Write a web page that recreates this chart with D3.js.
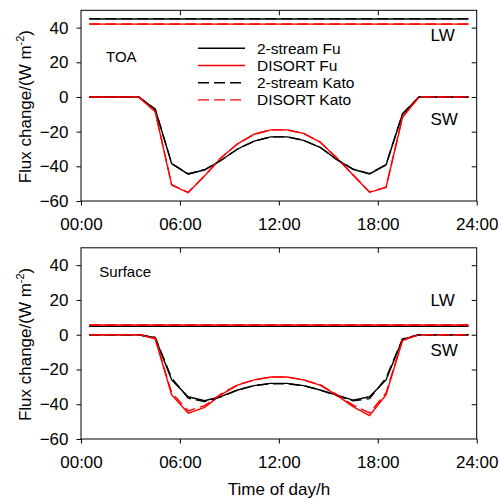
<!DOCTYPE html>
<html>
<head>
<meta charset="utf-8">
<script src="https://cdn.jsdelivr.net/npm/d3@7"></script>
<style>
  body { margin: 0; background: #fff; }
  svg { display: block; }
</style>
</head>
<body>
<div id="chart"></div>
<script>
// hours of the day (mid-hour samples)
const hours = [0.5, 1.5, 2.5, 3.5, 4.5, 5.5, 6.5, 7.5, 8.5, 9.5, 10.5, 11.5,
               12.5, 13.5, 14.5, 15.5, 16.5, 17.5, 18.5, 19.5, 20.5, 21.5, 22.5, 23.5];

// TOA shortwave flux change
const toaTwoFu    = [0, 0, 0, 0, -7, -38.5, -44.5, -42, -36.5, -30, -25.5, -23, -23, -25, -29, -36, -41.7, -44.4, -39.2, -9.8, 0, 0, 0, 0];
const toaDisFu    = [0, 0, 0, 0, -8.5, -50.8, -55.2, -45.5, -35, -27, -21.5, -19, -19, -21, -26, -35, -45, -55, -52.2, -11.7, 0, 0, 0, 0];
const toaTwoKato  = [0, 0, 0, 0, -7, -38.3, -44.3, -42, -36.5, -30, -25.5, -23, -23, -25, -29, -36, -41.6, -44.2, -39, -9.7, 0, 0, 0, 0];
const toaDisKato  = [0, 0, 0, 0, -8.4, -50.6, -55, -45.4, -35, -27, -21.5, -19, -19, -21, -26, -35, -44.9, -54.8, -52, -11.6, 0, 0, 0, 0];

// Surface shortwave flux change
const sfcTwoFu    = [0, 0, 0, 0, -1.7, -26, -35.7, -38, -35.5, -31.8, -29.3, -28, -28, -29.3, -31.8, -34.7, -37.6, -35.7, -26, -2.7, 0, 0, 0, 0];
const sfcDisFu    = [0, 0, 0, 0, -2.3, -34.7, -45.2, -41.8, -34.5, -29, -26, -24.3, -24.3, -26, -29, -34.8, -41.4, -46.5, -34.7, -3.4, 0, 0, 0, 0];
const sfcTwoKato  = [0, 0, 0, 0, -1.5, -25, -36.5, -38.5, -35.8, -31.8, -29.3, -28.2, -28.2, -29.3, -31.8, -35, -38, -36.8, -25, -2.4, 0, 0, 0, 0];
const sfcDisKato  = [0, 0, 0, 0, -2, -33.5, -43.8, -40.8, -34, -28.8, -26, -24.4, -24.4, -26, -28.8, -34.3, -40.5, -45, -33.5, -3, 0, 0, 0, 0];

// Longwave flux change (constant through the day): 2-stream Fu, DISORT Fu, 2-stream Kato, DISORT Kato
const toaLW = [45, 42, 45.2, 42.1];
const sfcLW = [4.8, 5.6, 4.8, 5.6];

const seriesNames = ["2-stream Fu", "DISORT Fu", "2-stream Kato", "DISORT Kato"];
const xTicks = [0, 6, 12, 18, 24];
const yTicks = [-60, -40, -20, 0, 20, 40];

const width = 500, height = 499;
const font = "Liberation Sans, Arial, sans-serif";
const colors = ["#000", "#f00", "#000", "#f00"];
const dashes = [null, null, "11,5", "11,5"];

const svg = d3.select("#chart").append("svg")
  .attr("width", width).attr("height", height)
  .style("font-family", font);

const x = d3.scaleLinear().domain([0, 24]).range([81, 476.7]);

function panel(top, bottom, sw, lw, label, labelPos, lwY, swY) {
  const y = d3.scaleLinear().domain([-60, 50]).range([bottom, top]);
  const g = svg.append("g");

  // left axis
  const left = g.append("g").attr("transform", "translate(81,0)")
    .call(d3.axisLeft(y).tickValues(yTicks).tickSize(4.5).tickPadding(8).tickSizeOuter(0));
  left.select(".domain").remove();
  left.selectAll("text").attr("font-size", 17).attr("font-family", font);

  // bottom axis
  const bot = g.append("g").attr("transform", `translate(0,${bottom})`)
    .call(d3.axisBottom(x).tickValues(xTicks).tickSize(4.5).tickPadding(12)
      .tickFormat(d => String(d).padStart(2, "0") + ":00").tickSizeOuter(0));
  bot.select(".domain").remove();
  bot.selectAll("text").attr("font-size", 17).attr("font-family", font);

  // inward ticks on top and right
  const tp = g.append("g").attr("transform", `translate(0,${top})`)
    .call(d3.axisTop(x).tickValues([6, 12, 18]).tickSize(-5).tickFormat(""));
  tp.select(".domain").remove();
  const rt = g.append("g").attr("transform", `translate(${x(24)},0)`)
    .call(d3.axisRight(y).tickValues([-40, -20, 0, 20, 40]).tickSize(-5).tickFormat(""));
  rt.select(".domain").remove();

  g.append("rect")
    .attr("x", x(0)).attr("y", top)
    .attr("width", x(24) - x(0)).attr("height", bottom - top)
    .attr("fill", "none").attr("stroke", "#000").attr("stroke-width", 1);

  const line = d3.line().x((d, i) => x(hours[i])).y(d => y(d));

  // longwave lines
  lw.forEach((v, k) => {
    g.append("line")
      .attr("x1", x(hours[0])).attr("x2", x(hours[hours.length - 1]))
      .attr("y1", y(v)).attr("y2", y(v))
      .attr("stroke", colors[k]).attr("stroke-width", 1.4)
      .attr("stroke-dasharray", dashes[k]);
  });

  // shortwave curves
  sw.forEach((vals, k) => {
    g.append("path").datum(vals)
      .attr("d", line)
      .attr("fill", "none")
      .attr("stroke", colors[k]).attr("stroke-width", 1.4)
      .attr("stroke-dasharray", dashes[k]);
  });

  g.append("text").attr("x", labelPos[0]).attr("y", labelPos[1])
    .attr("font-size", 15).text(label);
  g.append("text").attr("x", x(21.2)).attr("y", y(lwY))
    .attr("font-size", 17).text("LW");
  g.append("text").attr("x", x(21.2)).attr("y", y(swY))
    .attr("font-size", 17).text("SW");

  // y title
  const yt = g.append("text")
    .attr("transform", `translate(31,${(top + bottom) / 2 + 1}) rotate(-90)`)
    .attr("text-anchor", "middle").attr("font-size", 17);
  yt.append("tspan").text("Flux change/(W m");
  yt.append("tspan").attr("font-size", 11).attr("dy", -7).text("-2");
  yt.append("tspan").attr("dy", 7).text(")");
}

panel(10.3, 201, [toaTwoFu, toaDisFu, toaTwoKato, toaDisKato], toaLW,
      "TOA", [106, 62], 32.5, -16);
panel(247.8, 439, [sfcTwoFu, sfcDisFu, sfcTwoKato, sfcDisKato], sfcLW,
      "Surface", [99.3, 277.3], 16.5, -12);

// legend (top panel)
const legendG = svg.append("g");
seriesNames.forEach((name, k) => {
  const ly = 48.3 + k * 17.2;
  legendG.append("line").attr("x1", 198).attr("x2", 245)
    .attr("y1", ly).attr("y2", ly)
    .attr("stroke", colors[k]).attr("stroke-width", 1.4)
    .attr("stroke-dasharray", dashes[k]);
  legendG.append("text").attr("x", 257).attr("y", ly + 5.5)
    .attr("font-size", 15.5).text(name);
});

svg.append("text").attr("x", 279).attr("y", 495)
  .attr("text-anchor", "middle").attr("font-size", 17)
  .text("Time of day/h");
</script>
</body>
</html>
